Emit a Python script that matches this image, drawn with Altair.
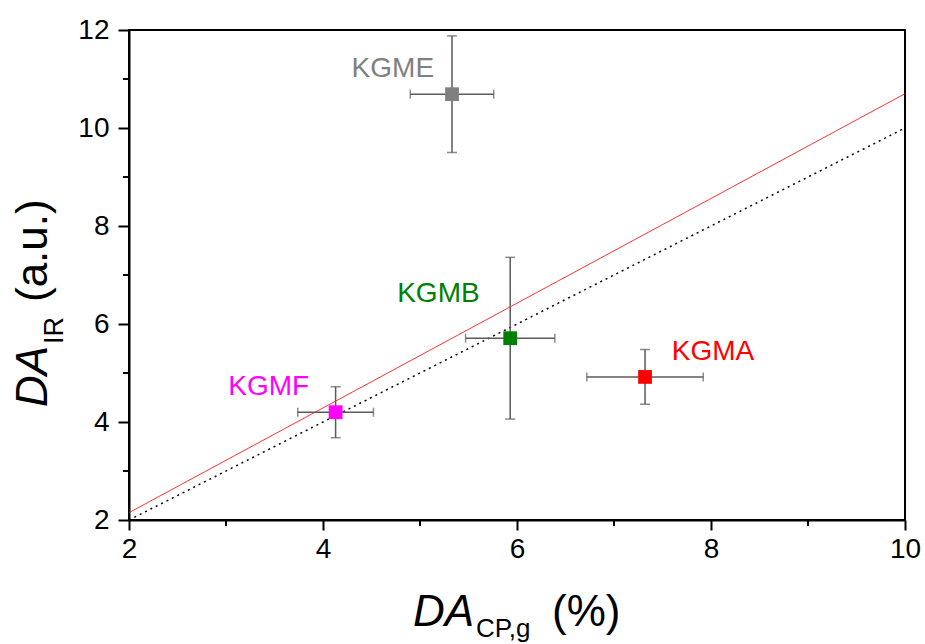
import altair as alt
import pandas as pd

# ---- data ----
names = ["KGMA", "KGMB", "KGME", "KGMF"]
da_cp = [7.32, 5.93, 5.33, 4.13]
da_ir = [4.92, 5.71, 10.69, 4.20]
err_x = [0.60, 0.46, 0.43, 0.39]
err_y = [0.56, 1.65, 1.19, 0.52]
colors = ["#ff0000", "#008000", "#808080", "#ff00ff"]

label_x = [8.02, 5.19, 4.72, 3.44]
label_y = [5.27, 6.45, 11.04, 4.55]

fit_x = [2, 10]
fit_y = [2.15, 10.7]
ident_x = [2, 10]
ident_y = [2, 10]

x_ticks = [2, 4, 6, 8, 10]
y_ticks = [2, 4, 6, 8, 10, 12]
x_minor = [3, 5, 7, 9]
y_minor = [3, 5, 7, 9, 11]

W, H = 776, 490
FONT = "Liberation Sans"

pts = pd.DataFrame({
    "name": names, "x": da_cp, "y": da_ir, "ex": err_x, "ey": err_y,
})
pts["xlo"] = pts["x"] - pts["ex"]
pts["xhi"] = pts["x"] + pts["ex"]
pts["ylo"] = pts["y"] - pts["ey"]
pts["yhi"] = pts["y"] + pts["ey"]

labels = pd.DataFrame({"name": names, "x": label_x, "y": label_y})
fit = pd.DataFrame({"x": fit_x, "y": fit_y})
ident = pd.DataFrame({"x": ident_x, "y": ident_y})

xs = alt.Scale(domain=[2, 10], nice=False, zero=False)
ys = alt.Scale(domain=[2, 12], nice=False, zero=False)
cs = alt.Scale(domain=names, range=colors)

x_axis = alt.Axis(values=x_ticks, title=None, grid=False, labelFontSize=28, labelFont=FONT,
                  labelColor="black", tickSize=10, tickWidth=2, tickColor="black",
                  domainColor="black", domainWidth=2, labelPadding=5, labelFlush=False,
                  format="d")
y_axis = alt.Axis(values=y_ticks, title=None, grid=False, labelFontSize=28, labelFont=FONT,
                  labelColor="black", tickSize=11, tickWidth=2, tickColor="black",
                  domainColor="black", domainWidth=2, labelPadding=9, labelFlush=False,
                  format="d")

ident_line = alt.Chart(ident).mark_line(color="black", strokeWidth=1.5, strokeDash=[2, 4]).encode(
    x=alt.X("x:Q", scale=xs, axis=x_axis), y=alt.Y("y:Q", scale=ys, axis=y_axis))
fit_line = alt.Chart(fit).mark_line(color="#ff0000", strokeWidth=1, opacity=0.8).encode(
    x=alt.X("x:Q", scale=xs), y=alt.Y("y:Q", scale=ys))

ecol = "#5a5a5a"
base = alt.Chart(pts)
hbar = base.mark_rule(color=ecol, strokeWidth=1.5).encode(
    x=alt.X("xlo:Q", scale=xs), x2="xhi:Q", y=alt.Y("y:Q", scale=ys))
vbar = base.mark_rule(color=ecol, strokeWidth=1.5).encode(
    x=alt.X("x:Q", scale=xs), y=alt.Y("ylo:Q", scale=ys), y2="yhi:Q")
cap_l = base.mark_tick(color=ecol, orient="vertical", thickness=1.5, size=9).encode(
    x=alt.X("xlo:Q", scale=xs), y=alt.Y("y:Q", scale=ys))
cap_r = base.mark_tick(color=ecol, orient="vertical", thickness=1.5, size=9).encode(
    x=alt.X("xhi:Q", scale=xs), y=alt.Y("y:Q", scale=ys))
cap_b = base.mark_tick(color=ecol, orient="horizontal", thickness=1.5, size=10).encode(
    x=alt.X("x:Q", scale=xs), y=alt.Y("ylo:Q", scale=ys))
cap_t = base.mark_tick(color=ecol, orient="horizontal", thickness=1.5, size=10).encode(
    x=alt.X("x:Q", scale=xs), y=alt.Y("yhi:Q", scale=ys))
squares = base.mark_square(size=190, opacity=1).encode(
    x=alt.X("x:Q", scale=xs), y=alt.Y("y:Q", scale=ys),
    color=alt.Color("name:N", scale=cs, legend=None))

lbl = alt.Chart(labels).mark_text(font=FONT, fontSize=28, align="center", baseline="alphabetic").encode(
    x=alt.X("x:Q", scale=xs), y=alt.Y("y:Q", scale=ys), text="name:N",
    color=alt.Color("name:N", scale=cs, legend=None))

xminor = alt.Chart(pd.DataFrame({"v": x_minor})).mark_rule(color="black", strokeWidth=2).encode(
    x=alt.X("v:Q", scale=xs), y=alt.value(H), y2=alt.value(H + 6))
yminor = alt.Chart(pd.DataFrame({"v": y_minor})).mark_rule(color="black", strokeWidth=2).encode(
    y=alt.Y("v:Q", scale=ys), x=alt.value(-6), x2=alt.value(0))


def txt(s, px, py, size, italic=False, angle=0):
    kw = dict(font=FONT, fontSize=size, align="left", baseline="alphabetic", color="black")
    if italic:
        kw["fontStyle"] = "italic"
    if angle:
        kw["angle"] = angle
    return alt.Chart(pd.DataFrame({"t": [s]})).mark_text(**kw).encode(
        x=alt.value(px), y=alt.value(py), text="t:N")


titles = [
    txt("DA", 284, 596, 44, italic=True),
    txt("CP,g", 347, 607, 26),
    txt("(%)", 423, 596, 44),
    txt("DA", -82, 377, 44, italic=True, angle=270),
    txt("IR", -66, 314, 27, angle=270),
    txt("(a.u.)", -82, 272, 44, angle=270),
]

chart = alt.layer(
    ident_line, fit_line, hbar, vbar, cap_l, cap_r, cap_b, cap_t, squares, lbl,
    xminor, yminor, *titles
).properties(
    width=W, height=H,
    autosize=alt.AutoSizeParams(type="none"),
    padding={"left": 129, "top": 30, "right": 20, "bottom": 124},
    background="white",
).configure_view(stroke="black", strokeWidth=2)

chart.save("out.html", embed_options={"renderer": "svg", "actions": False})
